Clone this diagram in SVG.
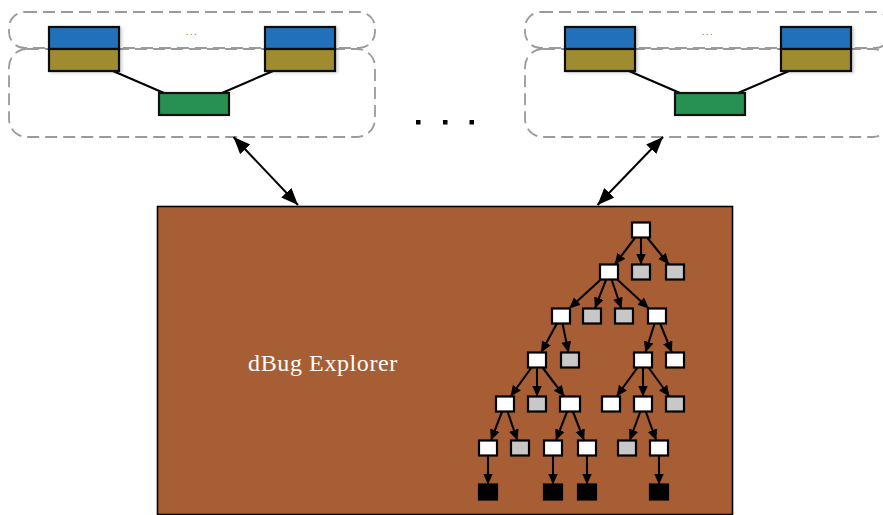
<svg xmlns="http://www.w3.org/2000/svg" width="883" height="515" viewBox="0 0 883 515">
  <style>
    .zone { fill: none; stroke: #9a9a9a; stroke-width: 1.8; stroke-dasharray: 12 6; }
    .top { fill: #2470b9; stroke: #111; stroke-width: 2.2; }
    .mid { fill: #9e8c2f; stroke: #111; stroke-width: 2.2; }
    .svc { fill: #279151; stroke: #111; stroke-width: 2.2; }
    .link { stroke: #000; stroke-width: 2.1; fill: none; }
    .big { stroke: #000; stroke-width: 2; fill: none; marker-start: url(#bigHead); marker-end: url(#bigHead); }
    .edge { stroke: #000; stroke-width: 2.1; fill: none; marker-end: url(#head); }
    .n { stroke: #000; stroke-width: 2.2; }
    .w { fill: #ffffff; }
    .g { fill: #c8c8c8; }
    .b { fill: #000000; }
    .ell { font-family: "DejaVu Sans", sans-serif; font-size: 8px; letter-spacing: 1.5px; fill: #666; text-anchor: middle; }
    .title { font-family: "Liberation Serif", "DejaVu Serif", serif; font-size: 24px; letter-spacing: 0.6px; fill: #ffffff; text-anchor: middle; }
  </style>
  <defs>
    <marker id="head" markerUnits="userSpaceOnUse" markerWidth="13" markerHeight="11" refX="11" refY="5" orient="auto">
      <path d="M0,0 L11,5 L0,10 z" fill="#000"/>
    </marker>
    <marker id="bigHead" markerUnits="userSpaceOnUse" markerWidth="19" markerHeight="15" refX="17" refY="7" orient="auto-start-reverse">
      <path d="M0,0 L17,7 L0,14 z" fill="#000"/>
    </marker>
    <filter id="soft" x="-20%" y="-20%" width="150%" height="150%">
      <feDropShadow dx="2" dy="1" stdDeviation="1.5" flood-color="#000" flood-opacity="0.18"/>
    </filter>
    <g id="cluster">
      <rect class="zone" x="9" y="12" width="366" height="36" rx="16"/>
      <rect class="zone" x="9" y="49" width="366" height="88" rx="18"/>
      <text class="ell" x="192" y="35">...</text>
      <line class="link" x1="113" y1="71" x2="164" y2="93"/>
      <line class="link" x1="273" y1="71" x2="222" y2="93"/>
      <g filter="url(#soft)">
        <rect class="top" x="49" y="27" width="70" height="22"/>
        <rect class="mid" x="49" y="49" width="70" height="22"/>
        <rect class="top" x="265" y="27" width="70" height="22"/>
        <rect class="mid" x="265" y="49" width="70" height="22"/>
      </g>
      <rect class="svc" x="159" y="93" width="70" height="22"/>
    </g>
  </defs>

  <!-- service clusters -->
  <g id="cluster-left"><use href="#cluster"/></g>
  <g id="cluster-right"><use href="#cluster" x="516"/></g>

  <!-- ellipsis between clusters -->
  <g id="more" fill="#000">
    <rect x="416" y="120" width="4.5" height="4.5"/>
    <rect x="443" y="120" width="4.5" height="4.5"/>
    <rect x="469.5" y="120" width="4.5" height="4.5"/>
  </g>

  <!-- explorer panel -->
  <g id="explorer">
    <rect x="157.5" y="206.5" width="575" height="308" fill="#a85e34" stroke="#000" stroke-width="1.6"/>
    <text class="title" x="323" y="371">dBug Explorer</text>
  </g>

  <!-- connectors -->
  <g id="connectors">
    <line class="big" x1="233.5" y1="137" x2="298" y2="205"/>
    <line class="big" x1="663" y1="137" x2="597.5" y2="205"/>

    <!-- tree edges -->
    <line class="edge" x1="635.3" y1="237.5" x2="614.7" y2="264.5"/>
    <line class="edge" x1="641" y1="237.5" x2="641" y2="264.5"/>
    <line class="edge" x1="647.1" y1="237.5" x2="668.9" y2="264.5"/>

    <line class="edge" x1="600.8" y1="279.5" x2="569.2" y2="308.5"/>
    <line class="edge" x1="606.1" y1="279.5" x2="594.9" y2="308.5"/>
    <line class="edge" x1="611.6" y1="279.5" x2="621.4" y2="308.5"/>
    <line class="edge" x1="617.2" y1="279.5" x2="648.8" y2="308.5"/>

    <line class="edge" x1="556.9" y1="323.5" x2="541.1" y2="352.5"/>
    <line class="edge" x1="562.5" y1="323.5" x2="568.5" y2="352.5"/>
    <line class="edge" x1="654.6" y1="323.5" x2="645.4" y2="352.5"/>
    <line class="edge" x1="660.1" y1="323.5" x2="671.9" y2="352.5"/>

    <line class="edge" x1="531.5" y1="367.5" x2="510.5" y2="396.5"/>
    <line class="edge" x1="537" y1="367.5" x2="537" y2="396.5"/>
    <line class="edge" x1="542.6" y1="367.5" x2="564.4" y2="396.5"/>
    <line class="edge" x1="637.5" y1="367.5" x2="616.5" y2="396.5"/>
    <line class="edge" x1="643" y1="367.5" x2="643" y2="396.5"/>
    <line class="edge" x1="648.5" y1="367.5" x2="669.5" y2="396.5"/>

    <line class="edge" x1="502.1" y1="411.5" x2="490.9" y2="440.5"/>
    <line class="edge" x1="507.6" y1="411.5" x2="517.4" y2="440.5"/>
    <line class="edge" x1="567.1" y1="411.5" x2="555.9" y2="440.5"/>
    <line class="edge" x1="572.9" y1="411.5" x2="584.1" y2="440.5"/>
    <line class="edge" x1="640.3" y1="411.5" x2="629.7" y2="440.5"/>
    <line class="edge" x1="645.7" y1="411.5" x2="656.3" y2="440.5"/>

    <line class="edge" x1="488" y1="455.5" x2="488" y2="484.5"/>
    <line class="edge" x1="553" y1="455.5" x2="553" y2="484.5"/>
    <line class="edge" x1="587" y1="455.5" x2="587" y2="484.5"/>
    <line class="edge" x1="659" y1="455.5" x2="659" y2="484.5"/>
  </g>

  <!-- tree nodes -->
  <g id="n-root"><rect class="n w" x="632" y="222.5" width="18" height="15"/></g>

  <g id="n-2a"><rect class="n w" x="600" y="264.5" width="18" height="15"/></g>
  <g id="n-2b"><rect class="n g" x="632" y="264.5" width="18" height="15"/></g>
  <g id="n-2c"><rect class="n g" x="666" y="264.5" width="18" height="15"/></g>

  <g id="n-3a"><rect class="n w" x="552" y="308.5" width="18" height="15"/></g>
  <g id="n-3b"><rect class="n g" x="583" y="308.5" width="18" height="15"/></g>
  <g id="n-3c"><rect class="n g" x="615" y="308.5" width="18" height="15"/></g>
  <g id="n-3d"><rect class="n w" x="648" y="308.5" width="18" height="15"/></g>

  <g id="n-4a"><rect class="n w" x="528" y="352.5" width="18" height="15"/></g>
  <g id="n-4b"><rect class="n g" x="561" y="352.5" width="18" height="15"/></g>
  <g id="n-4c"><rect class="n w" x="634" y="352.5" width="18" height="15"/></g>
  <g id="n-4d"><rect class="n w" x="666" y="352.5" width="18" height="15"/></g>

  <g id="n-5a"><rect class="n w" x="496" y="396.5" width="18" height="15"/></g>
  <g id="n-5b"><rect class="n g" x="528" y="396.5" width="18" height="15"/></g>
  <g id="n-5c"><rect class="n w" x="560" y="396.5" width="20" height="15"/></g>
  <g id="n-5d"><rect class="n w" x="602" y="396.5" width="18" height="15"/></g>
  <g id="n-5e"><rect class="n w" x="634" y="396.5" width="18" height="15"/></g>
  <g id="n-5f"><rect class="n g" x="666" y="396.5" width="18" height="15"/></g>

  <g id="n-6a"><rect class="n w" x="479" y="440.5" width="18" height="15"/></g>
  <g id="n-6b"><rect class="n g" x="511" y="440.5" width="18" height="15"/></g>
  <g id="n-6c"><rect class="n w" x="544" y="440.5" width="18" height="15"/></g>
  <g id="n-6d"><rect class="n w" x="578" y="440.5" width="18" height="15"/></g>
  <g id="n-6e"><rect class="n g" x="618" y="440.5" width="18" height="15"/></g>
  <g id="n-6f"><rect class="n w" x="650" y="440.5" width="18" height="15"/></g>

  <g id="n-7a"><rect class="n b" x="479" y="484.5" width="18" height="15"/></g>
  <g id="n-7b"><rect class="n b" x="544" y="484.5" width="18" height="15"/></g>
  <g id="n-7c"><rect class="n b" x="578" y="484.5" width="18" height="15"/></g>
  <g id="n-7d"><rect class="n b" x="650" y="484.5" width="18" height="15"/></g>
</svg>
